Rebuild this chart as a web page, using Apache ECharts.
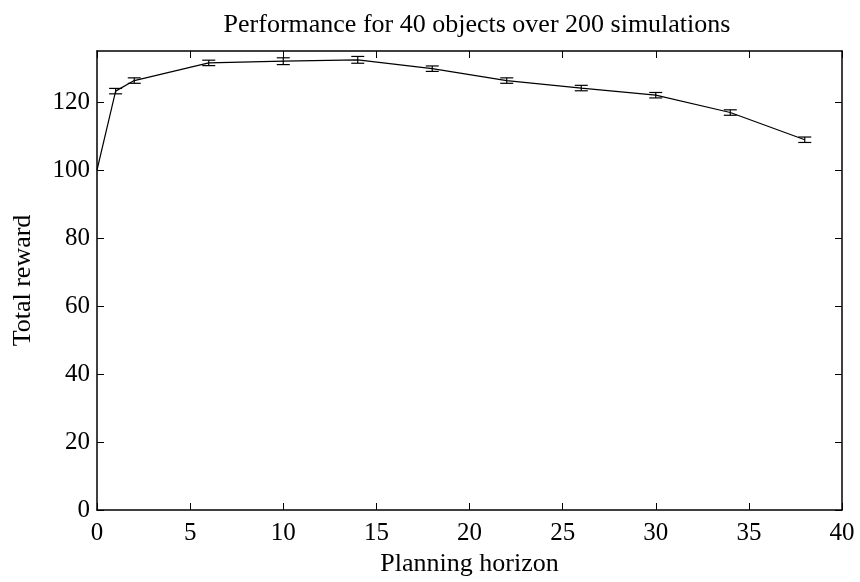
<!DOCTYPE html>
<html>
<head>
<meta charset="utf-8">
<script src="https://cdn.jsdelivr.net/npm/echarts@6/dist/echarts.min.js"></script>
<style>
  html, body { margin: 0; padding: 0; background: #fff; }
  #main { width: 860px; height: 582px; }
</style>
</head>
<body>
<div id="main"></div>
<script>
// planning horizon vs. total reward, with error bars
var horizon = [0, 1, 2, 6, 10, 14, 18, 22, 26, 30, 34, 38];
var reward  = [100, 123.2, 126.3, 131.5, 132.0, 132.4, 129.8, 126.3, 124.1, 122.0, 116.9, 108.9];
var errHalf = [0, 0.8, 0.8, 0.8, 1.0, 1.0, 0.8, 0.8, 0.8, 0.8, 0.8, 0.8];

var yTicks = [0, 20, 40, 60, 80, 100, 120];

var fontFam = '"Liberation Serif", "DejaVu Serif", serif';

var lineData = [];
var errData = [];
for (var i = 0; i < horizon.length; i++) {
	lineData.push([horizon[i], reward[i]]);
	if (errHalf[i] > 0) {
		errData.push([horizon[i], reward[i] - errHalf[i], reward[i] + errHalf[i]]);
	}
}

// vertical bar with caps
function renderErr(params, api) {
	var x = api.value(0);
	var lo = api.coord([x, api.value(1)]);
	var hi = api.coord([x, api.value(2)]);
	var w = 6.5;
	var st = { stroke: '#000', lineWidth: 1.2 };
	return {
		type: 'group',
		children: [
			{ type: 'line', shape: { x1: lo[0], y1: lo[1], x2: hi[0], y2: hi[1] }, style: st },
			{ type: 'line', shape: { x1: lo[0] - w, y1: lo[1], x2: lo[0] + w, y2: lo[1] }, style: st },
			{ type: 'line', shape: { x1: hi[0] - w, y1: hi[1], x2: hi[0] + w, y2: hi[1] }, style: st }
		]
	};
}

var chart = echarts.init(document.getElementById('main'));

var axLine = { show: true, onZero: false, lineStyle: { color: '#000', width: 1.5 } };
var tickStyle = { color: '#000', width: 1 };

var option = {
	animation: false,
	backgroundColor: '#fff',
	title: {
		text: 'Performance for 40 objects over 200 simulations',
		left: 472,
		top: 7,
		textAlign: 'center',
		textStyle: { fontFamily: fontFam, fontSize: 26, fontWeight: 'normal', color: '#000' }
	},
	grid: { left: 97, right: 18, top: 51, bottom: 68, containLabel: false },
	xAxis: [
		{
			type: 'value', min: 0, max: 40, interval: 5,
			position: 'bottom',
			name: 'Planning horizon', nameLocation: 'middle', nameGap: 41,
			nameTextStyle: { fontFamily: fontFam, fontSize: 26, color: '#000' },
			axisLine: axLine,
			axisTick: { show: true, inside: true, length: 7, lineStyle: tickStyle },
			axisLabel: { fontFamily: fontFam, fontSize: 25, color: '#000', margin: 11 },
			splitLine: { show: false }
		},
		{
			type: 'value', min: 0, max: 40, interval: 5,
			position: 'top',
			axisLine: axLine,
			axisTick: { show: true, inside: true, length: 7, lineStyle: tickStyle },
			axisLabel: { show: false },
			splitLine: { show: false }
		}
	],
	yAxis: [
		{
			type: 'value', min: 0, max: 135,
			position: 'left',
			name: 'Total reward', nameLocation: 'middle', nameGap: 61,
			nameTextStyle: { fontFamily: fontFam, fontSize: 26, color: '#000' },
			axisLine: axLine,
			axisTick: { show: true, inside: true, length: 7, lineStyle: tickStyle, customValues: yTicks },
			axisLabel: { fontFamily: fontFam, fontSize: 25, color: '#000', margin: 7, customValues: yTicks },
			splitLine: { show: false }
		},
		{
			type: 'value', min: 0, max: 135,
			position: 'right',
			axisLine: axLine,
			axisTick: { show: true, inside: true, length: 7, lineStyle: tickStyle, customValues: yTicks },
			axisLabel: { show: false, customValues: yTicks },
			splitLine: { show: false }
		}
	],
	series: [
		{
			type: 'line',
			data: lineData,
			showSymbol: false,
			symbol: 'none',
			lineStyle: { color: '#000', width: 1.2 },
			z: 3
		},
		{
			type: 'custom',
			data: errData,
			renderItem: renderErr,
			encode: { x: 0, y: [1, 2] },
			z: 4
		}
	]
};

chart.setOption(option);
</script>
</body>
</html>
